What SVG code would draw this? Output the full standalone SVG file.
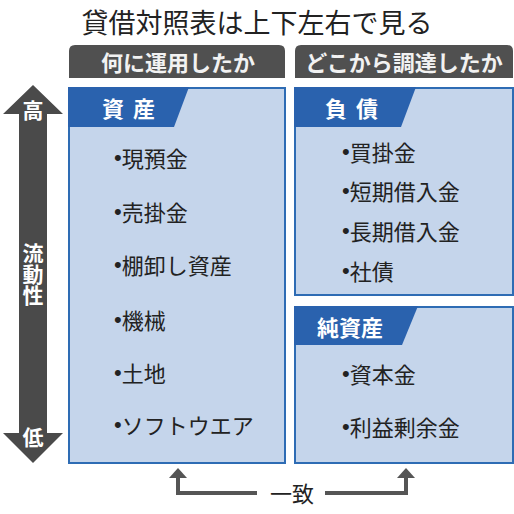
<svg xmlns="http://www.w3.org/2000/svg" width="514" height="514" viewBox="0 0 514 514">
<defs>
<style>
text{font-family:"Noto Sans CJK JP","Noto Sans CJK SC",sans-serif;dominant-baseline:central}
.title{font-size:27px;fill:#222;text-anchor:middle}
.tab{fill:#505050}
.tabt{font-size:22px;font-weight:bold;fill:#f2f2f2;text-anchor:middle}
.box{fill:#c5d5eb;stroke:#2e6cb4;stroke-width:2}
.lab{fill:#2a62ae}
.labt{font-size:22px;font-weight:bold;fill:#fff}
.item{font-size:22px;fill:#222}
.bul{font-family:"Liberation Sans",sans-serif}
.ax{font-size:21px;font-weight:bold;fill:#fff;text-anchor:middle}
.vert{writing-mode:vertical-rl;dominant-baseline:auto}
.conn{fill:none;stroke:#555;stroke-width:4}
</style>
<marker id="ah" markerUnits="userSpaceOnUse" markerWidth="10" markerHeight="18" viewBox="0 0 10 18" refX="0" refY="9" orient="auto">
<path d="M0,0 L10,9 L0,18 z" fill="#555"/>
</marker>
</defs>
<rect width="514" height="514" fill="#fff"/>
<text class="title" x="257" y="21">貸借対照表は上下左右で見る</text>

<g id="tab-left">
<path class="tab" d="M69,78 V51 Q69,45 75,45 H279 Q285,45 285,51 V78 z"/>
<text class="tabt" x="178" y="61">何に運用したか</text>
</g>
<g id="tab-right">
<path class="tab" d="M295,78 V51 Q295,45 301,45 H507 Q513,45 513,51 V78 z"/>
<text class="tabt" x="404" y="61">どこから調達したか</text>
</g>

<g id="axis">
<polygon points="33,85 63,114 47,114 47,433 63,433 33,463 3,433 19,433 19,114 3,114" fill="#4a4a4a"/>
<text class="ax" x="33" y="109">高</text>
<text class="ax vert" x="33" y="274.5">流動性</text>
<text class="ax" x="33" y="436">低</text>
</g>

<g id="assets">
<rect class="box" x="69" y="88" width="216" height="375"/>
<polygon class="lab" points="68,87 189,87 174,127 68,127"/>
<text class="labt" x="102" y="107" letter-spacing="2">資 産</text>
<text class="item" x="114" y="157"><tspan class="bul">•</tspan>現預金</text>
<text class="item" x="114" y="211"><tspan class="bul">•</tspan>売掛金</text>
<text class="item" x="114" y="264"><tspan class="bul">•</tspan>棚卸し資産</text>
<text class="item" x="114" y="319"><tspan class="bul">•</tspan>機械</text>
<text class="item" x="114" y="372"><tspan class="bul">•</tspan>土地</text>
<text class="item" x="114" y="424"><tspan class="bul">•</tspan>ソフトウエア</text>
</g>

<g id="liabilities">
<rect class="box" x="295" y="88" width="218" height="207"/>
<polygon class="lab" points="294,87 416,87 401,127 294,127"/>
<text class="labt" x="325" y="107" letter-spacing="2">負 債</text>
<text class="item" x="342" y="151"><tspan class="bul">•</tspan>買掛金</text>
<text class="item" x="342" y="190"><tspan class="bul">•</tspan>短期借入金</text>
<text class="item" x="342" y="230"><tspan class="bul">•</tspan>長期借入金</text>
<text class="item" x="342" y="270"><tspan class="bul">•</tspan>社債</text>
</g>

<g id="net-assets">
<rect class="box" x="295" y="307" width="218" height="156"/>
<polygon class="lab" points="294,306 418,306 402,345 294,345"/>
<text class="labt" x="317" y="326" font-size="23">純資産</text>
<text class="item" x="342" y="373"><tspan class="bul">•</tspan>資本金</text>
<text class="item" x="342" y="426"><tspan class="bul">•</tspan>利益剰余金</text>
</g>

<g id="connectors">
<path class="conn" d="M257,493 H178 V478" marker-end="url(#ah)"/>
<path class="conn" d="M325,493 H406 V478" marker-end="url(#ah)"/>
<text x="292" y="492" font-size="22" fill="#222" text-anchor="middle">一致</text>
</g>
</svg>
